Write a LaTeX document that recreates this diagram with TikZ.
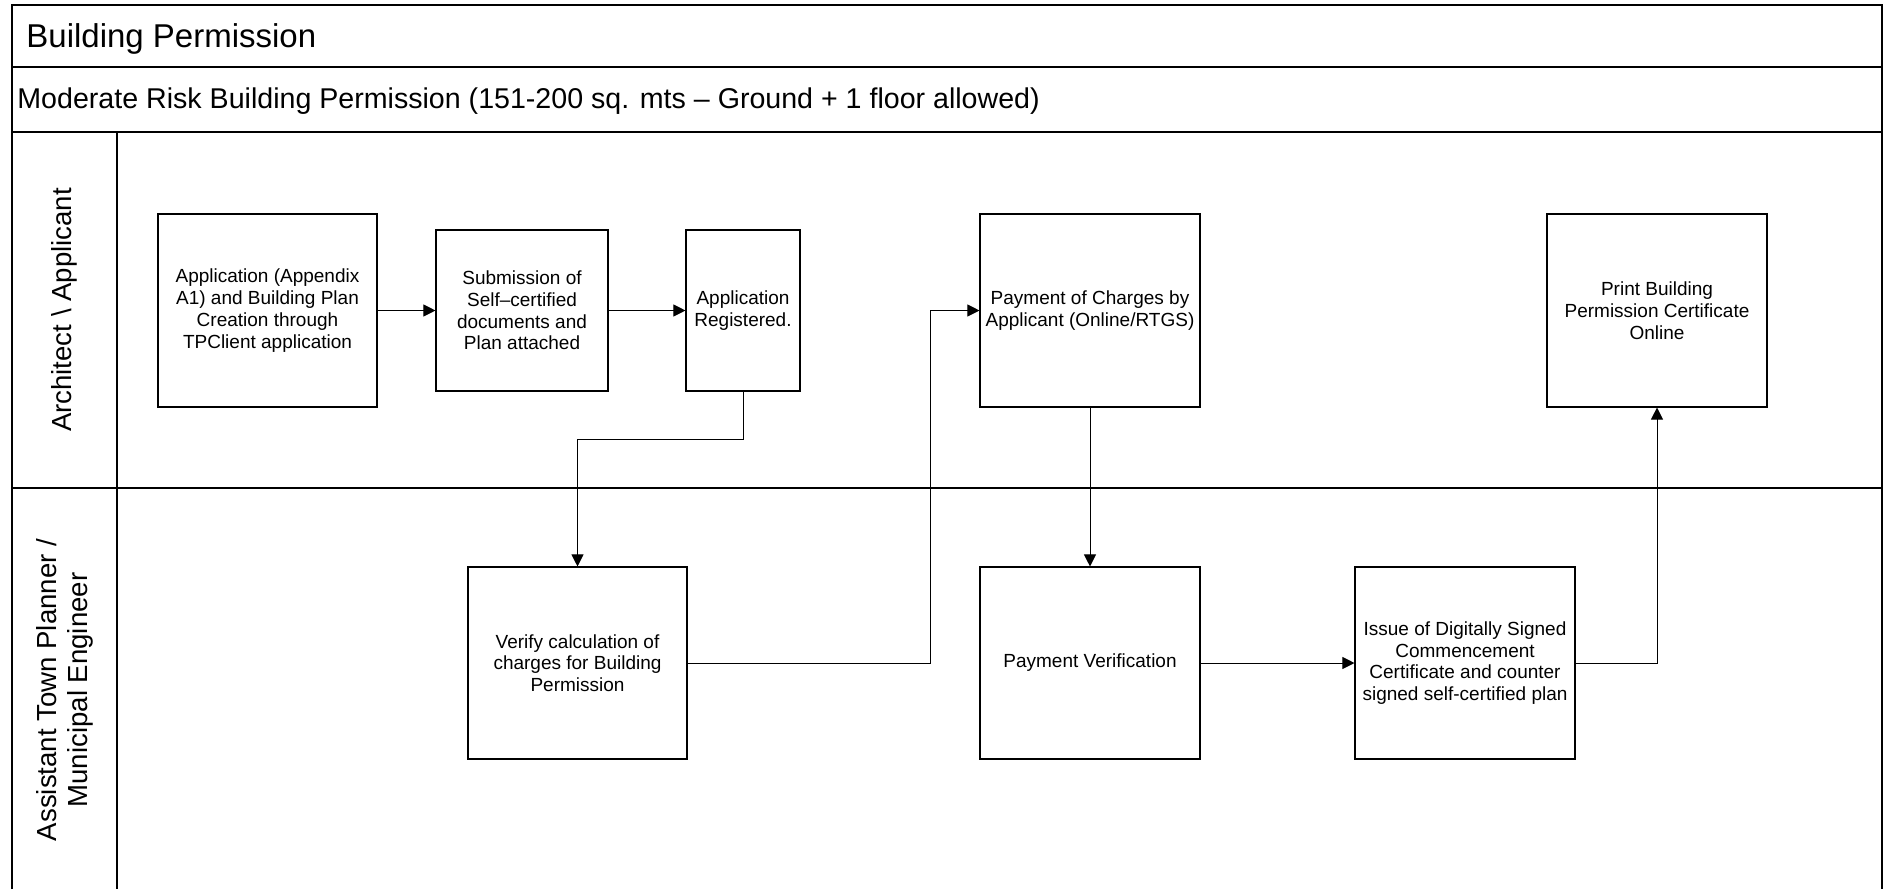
\documentclass[tikz,border=0pt]{standalone}
\usepackage{fontspec}
\setmainfont{Liberation Sans}
\usetikzlibrary{arrows.meta}
\begin{document}
\begin{tikzpicture}[x=0.5pt,y=-0.5pt,
  frameline/.style={line width=0.7pt},
  procbox/.style={draw,line width=0.55pt,rectangle,inner sep=0pt,align=center,
    font=\fontsize{9.5}{10.9}\selectfont},
  arr/.style={line width=0.5pt,-{Triangle[length=6pt,width=6pt]}},
  lanelabel/.style={rotate=90,align=center,font=\fontsize{13.8}{15.5}\selectfont},
]
\useasboundingbox (0,0) rectangle (1884,889);
% frame
\draw[frameline] (12,889) -- (12,5) -- (1882,5) -- (1882,889);
\draw[frameline] (12,67) -- (1882,67);
\draw[frameline] (12,132) -- (1882,132);
\draw[frameline] (12,488) -- (1882,488);
\draw[frameline] (117,132) -- (117,889);
% headings
\node[anchor=west,inner sep=0pt,font=\fontsize{16.5}{19}\selectfont] (title) at (26,39) {Building Permission};
\node[anchor=west,inner sep=0pt,font=\fontsize{14.3}{17}\selectfont] (subtitle) at (17,101) {Moderate Risk Building Permission (151-200 sq. mts – Ground + 1 floor allowed)};
\node[lanelabel] (lane1) at (64.5,310) {Architect \textbackslash{} Applicant};
\node[lanelabel] (lane2) at (64.5,690) {Assistant Town Planner /\\Municipal Engineer};
% boxes
\node[procbox,minimum width=109.5pt,minimum height=96.5pt] (A) at (267.5,310.5) {Application (Appendix\\A1) and Building Plan\\Creation through\\TPClient application};
\node[procbox,minimum width=86pt,minimum height=80.5pt] (B) at (522,310.5) {Submission of\\Self–certified\\documents and\\Plan attached};
\node[procbox,minimum width=57pt,minimum height=80.5pt] (C) at (743,310.5) {Application\\Registered.};
\node[procbox,minimum width=110pt,minimum height=96.5pt] (D) at (1090,310.5) {Payment of Charges by\\Applicant (Online/RTGS)};
\node[procbox,minimum width=110pt,minimum height=96.5pt] (E) at (1657,310.5) {Print Building\\Permission Certificate\\Online};
\node[procbox,minimum width=109.5pt,minimum height=96pt] (F) at (577.5,663) {Verify calculation of\\charges for Building\\Permission};
\node[procbox,minimum width=110pt,minimum height=96pt] (G) at (1090,663) {Payment Verification};
\node[procbox,minimum width=110pt,minimum height=96pt] (H) at (1465,663) {Issue of Digitally Signed\\Commencement\\Certificate and counter\\signed self-certified plan};
% connectors
\coordinate (c1) at (743,439);
\coordinate (k1) at (930,450);
\draw[arr] (A) -- (B);
\draw[arr] (B) -- (C);
\draw[arr] (C.south) -- (c1) -| (F.north);
\draw[arr] (F.east) -| (k1) |- (D.west);
\draw[arr] (D.south) -- (G.north);
\draw[arr] (G.east) -- (H.west);
\draw[arr] (H.east) -| (E.south);
\end{tikzpicture}
\end{document}
